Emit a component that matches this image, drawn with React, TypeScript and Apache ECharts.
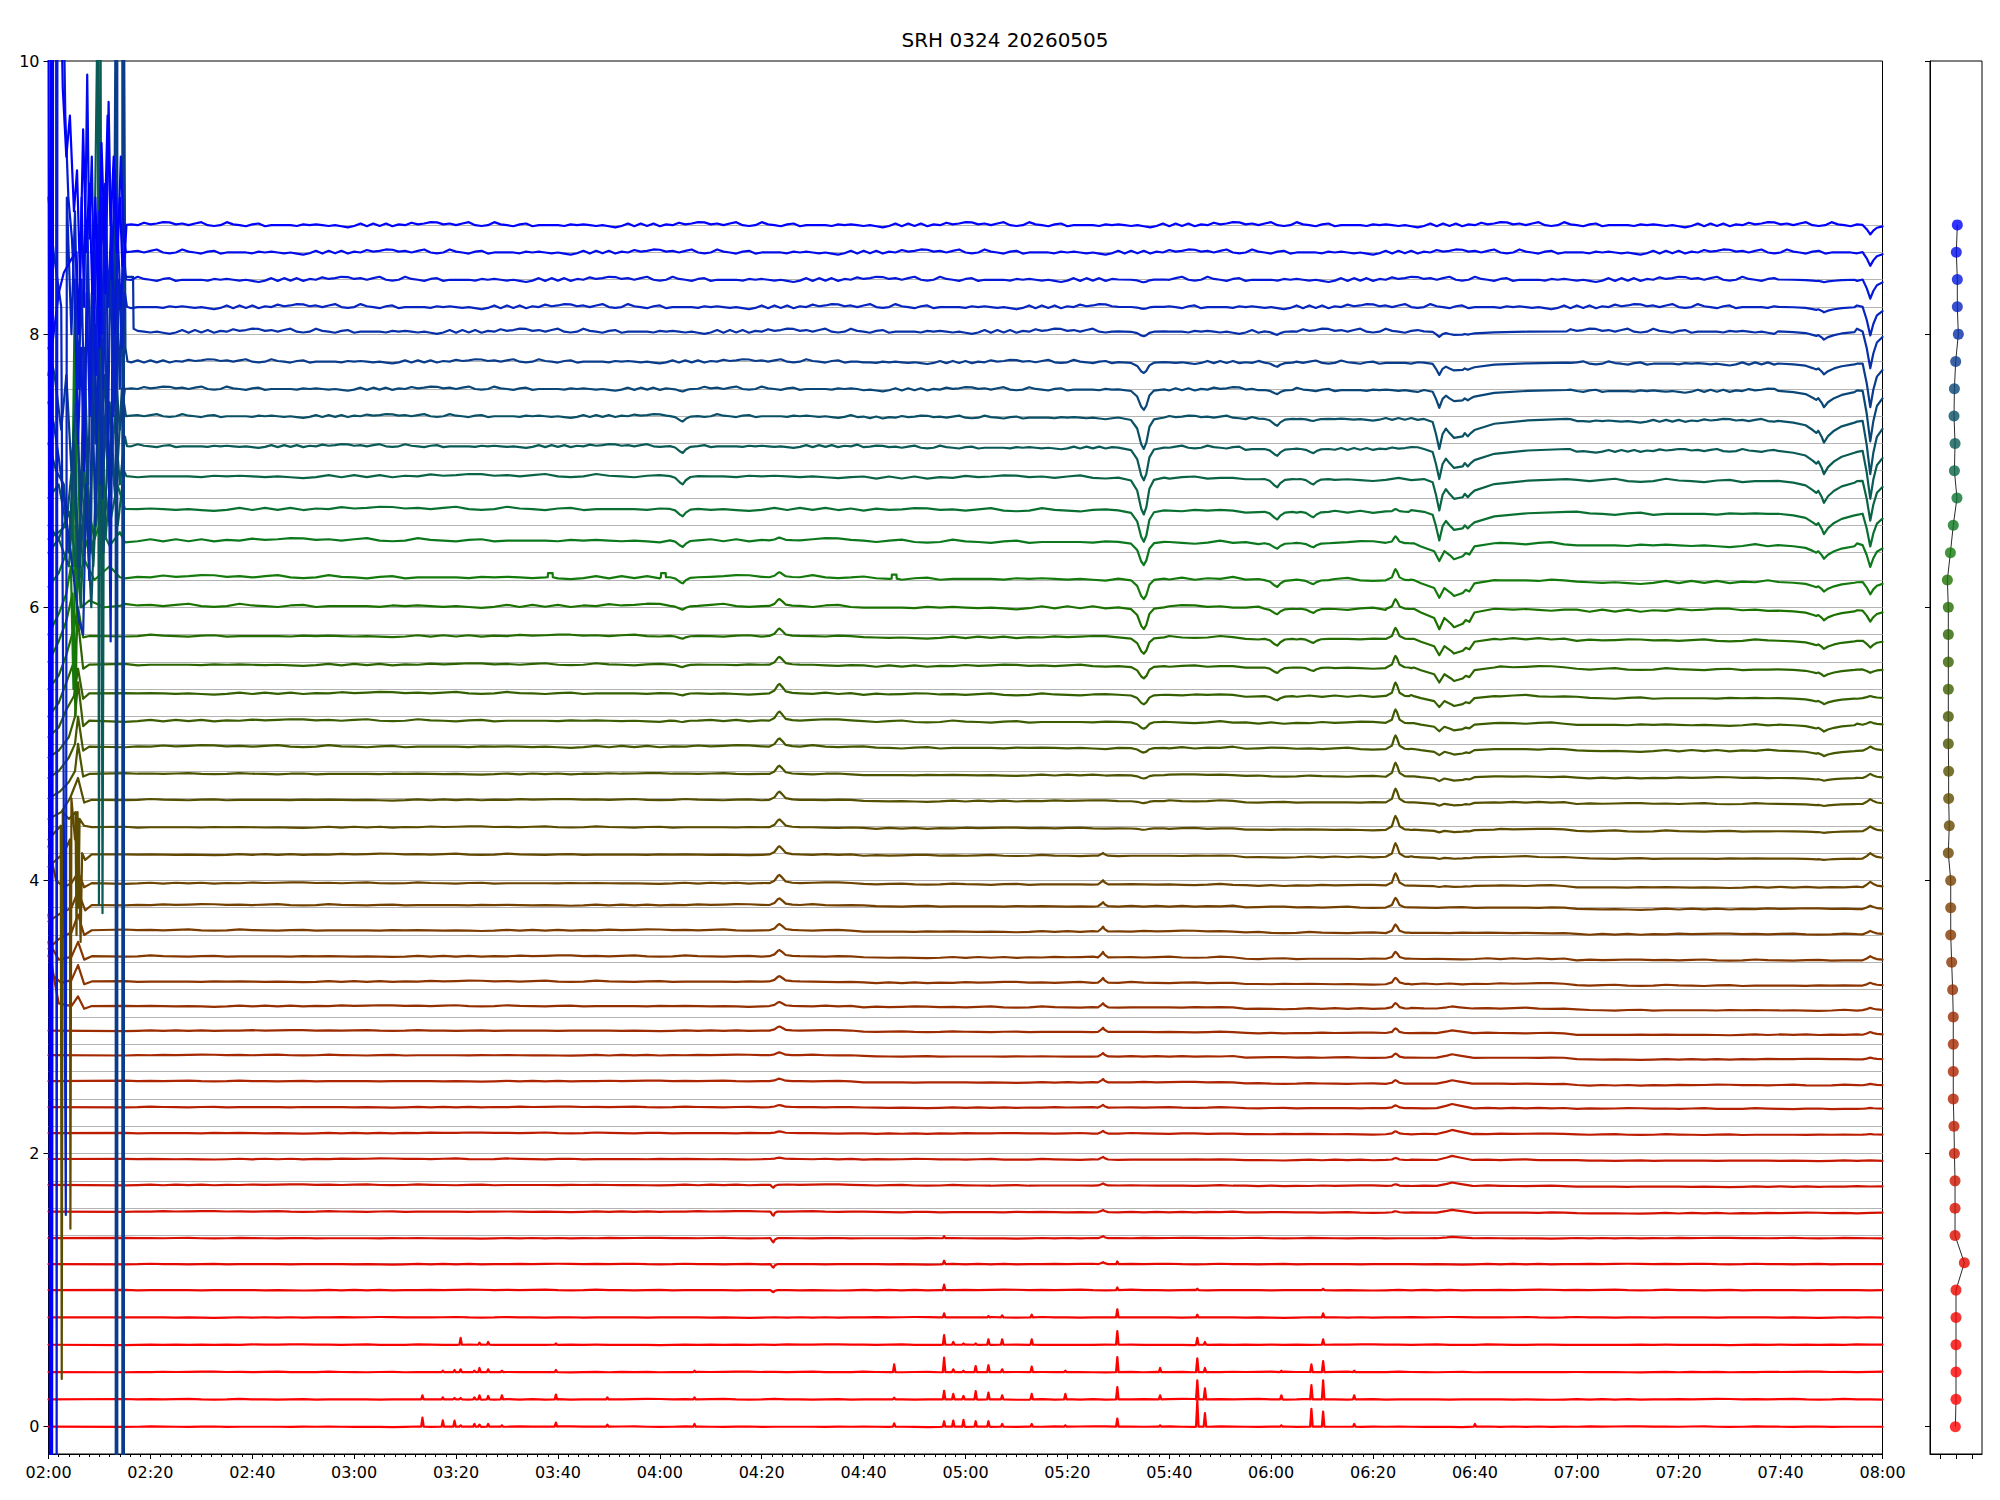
import React, { useEffect, useRef } from "react";
import * as echarts from "echarts";

// ---------------- DATA ----------------
const TITLE = "SRH 0324 20260505";
const xTickLabels = ["02:00","02:20","02:40","03:00","03:20","03:40","04:00","04:20","04:40","05:00","05:20","05:40","06:00","06:20","06:40","07:00","07:20","07:40","08:00"];
const yTickValues = [0, 2, 4, 6, 8, 10];

// nominal channel levels (gray lines, right panel dots)
const channelLevels = [0,0.2,0.4,0.6,0.8,1.0,1.2,1.4,1.6,1.8,2.0,2.2,2.4,2.6,2.8,3.0,3.2,3.4,3.6,3.8,4.0,4.2,4.4,4.6,4.8,5.0,5.2,5.4,5.6,5.8,6.0,6.2,6.4,6.6,6.8,7.0,7.2,7.4,7.6,7.8,8.0,8.2,8.4,8.6,8.8];
// observed trace baselines
const traceBase = [0,0.2,0.4,0.6,0.8,1.0,1.19,1.38,1.575,1.77,1.96,2.15,2.34,2.53,2.72,2.9,3.08,3.26,3.445,3.635,3.82,3.98,4.19,4.39,4.59,4.78,4.98,5.17,5.37,5.58,5.79,6.01,6.22,6.49,6.72,6.96,7.18,7.4,7.6,7.8,8.02,8.2,8.4,8.6,8.8];
const traceColors = ["#ff0000","#ff0000","#fe0000","#f80200","#f20400","#ec0600","#e40800","#dc0c00","#d41000","#cc1400","#c41800","#bc1c00","#b42000","#ac2400","#a42800","#9c2c00","#943000","#8c3400","#843800","#7c3c00","#744000","#6c4400","#644800","#5c4c00","#545000","#4c5400","#445800","#3c5c00","#346000","#2c6400","#246c00","#1c7200","#147a0c","#0c781e","#0a7032","#0a6444","#0a5a56","#0a5066","#0a4676","#0a3c8c","#0830a8","#0624c0","#0418d8","#020ceb","#0000ff"];
// right panel dot x-offsets
const dotX = [-0.04,0,0,0,0,0,0.52,-0.06,-0.06,-0.06,-0.1,-0.125,-0.17,-0.17,-0.17,-0.17,-0.21,-0.27,-0.33,-0.33,-0.33,-0.48,-0.42,-0.46,-0.46,-0.48,-0.48,-0.48,-0.48,-0.48,-0.48,-0.54,-0.35,-0.17,0.06,-0.1,-0.06,-0.125,-0.1,-0.02,0.146,0.083,0.083,0.02,0.083];

// baseline wiggle (normalized) and per-trace amplitude
const wiggle = [-0.4,-0.1,1.0,-0.1,-0.4,-0.1,-0.4,0.9,-0.1,0.5,1.0,-0.1,0.2,-0.1,-0.5,0.2,-0.5,0.5,-0.1,0.2,-0.1,-0.9,-0.1,-0.4,-0.1,-0.5,-0.4,0.5,0.2,0.8,0.2,0.5,1.0,-0.1,0.2,0.5,-0.5,-0.1,0.2,0.5,-0.5,0.5];
const noiseAmp = [0.003,0.003,0.003,0.003,0.003,0.003,0.003,0.003,0.004,0.004,0.004,0.004,0.004,0.004,0.004,0.004,0.006,0.006,0.006,0.006,0.006,0.006,0.006,0.006,0.006,0.006,0.01,0.01,0.01,0.01,0.01,0.016,0.016,0.016,0.016,0.016,0.014,0.014,0.016,0.016,0.02,0.02,0.02,0.02,0.02];
// baseline sampling step per trace (minutes)
const knotStepByTrace = [2.5,2.5,2.5,2.5,2.5,2.5,2.5,2.5,2.5,2.5,2.5,2.5,2.5,2.5,2.5,2.5,2.5,2.5,2.5,2.5,2.5,2.5,2.5,2.5,2.5,2.5,2.5,2.5,2.5,2.5,2.5,2.5,2.5,2.5,2.5,2.5,1.25,1.25,1.25,1.25,1.25,1.25,1.25,1.25,1.25];
const driftW = [0,0,0,0,0,0,0,0,-0.012,-0.012,-0.012,-0.012,-0.012,-0.03,-0.03,-0.03,-0.03,-0.03,-0.03,-0.03,-0.03,-0.03,-0.03,-0.03,-0.03,-0.03,-0.03,-0.03,-0.035,-0.035,-0.035,-0.035,-0.035,-0.035,-0.035,-0.035,-0.035,-0.035,-0.015,-0.015,0,0,0,0,0];
const driftSteps = [[0,0],[160,0.3],[235,0.6],[300,1]];

// event shapes [minutes from centre, normalized magnitude]; sign comes from the amplitude
const tmplA = [[-5,0],[-2.5,0.08],[-1.3,0.35],[-0.5,0.85],[0,1],[0.5,0.8],[1.1,0.3],[2,0.06],[4,0]];
const tmplB1 = [[-3,0],[-1.3,0.1],[-0.65,0.5],[0,1],[0.65,0.5],[1.3,0.32],[2,0.47],[2.9,0.63],[4.6,0.58],[5,0.47],[5.6,0.58],[6.2,0.47],[6.9,0.37],[10.8,0.16],[17.4,0.05],[25,0]];
const tmplB2 = [[-5,0],[-3.6,0.18],[-1.0,0.45],[0,1],[1.0,0.45],[2.3,0.73],[2.9,0.9],[4.6,0.73],[5.2,0.55],[5.9,0.64],[6.9,0.18],[10.8,0]];
const tmplC = [[-1.8,0],[-0.7,0.25],[-0.2,0.85],[0,1],[0.3,0.8],[0.8,0.25],[1.8,0.02],[2.6,0]];
const tmplD = [[-2,0],[-1,0.3],[-0.3,0.9],[0,1],[0.5,0.7],[1.2,0.2],[2.5,0.05],[4,0]];
const tmplDip = [[-2.5,0],[-1.5,0.2],[-0.5,0.8],[0,1],[0.6,0.5],[1.5,0.1],[3,0]];
const tmplTick = [[-0.6,0],[-0.2,0.8],[0,1],[0.3,0.3],[0.8,0]];
const tmplE = [[-1,0],[-0.3,0.6],[0,1],[0.3,0.5],[1,0]];
const tmplI = [[-9,0],[-6,0.08],[-3.6,0.2],[-2.2,0.42],[-1.5,0.55],[-1.1,0.45],[-0.4,0.75],[0,1],[0.8,0.7],[2,0.45],[3.5,0.25],[6,0.08]];
const tmplJ = [[-1.5,0],[-0.7,0.45],[0,1],[0.6,0.6],[1.3,0.3],[2.4,0.15]];
const tmplK = [[-3,0],[-1,0.6],[0,1],[1.5,0.6],[4,0]];
const tmplSpike = [[-0.25,0],[0,1],[0.25,0]];
const tmplPulse = [[-0.5,0],[-0.45,1],[0.45,1],[0.5,0]];

// per-trace amplitudes (y units, negative = dip), index 0 = bottom trace
const ampA = [0,0,0,0,0, 0,0,0,0,0, 0,0,0,0,0, 0,0,0,0,0, 0,0,0,-0.01,-0.015, -0.025,-0.035,-0.05,-0.07,-0.09, -0.12,-0.16,-0.15,-0.17,-0.23, -0.27,-0.24,-0.23,-0.15,-0.08, -0.035,-0.015,-0.02,0,0];
const ampB1 = [0,0,0,0,0, 0,0,0,0,0, 0,0,0,0,0, 0,0,0,0,0, 0,0,0,0,0, 0,0,0,0,0, 0,0,0,0,-0.21, -0.23,-0.22,-0.22,-0.13,-0.09, -0.04,0,0,0,0];
const ampB2 = [0,0,0,0,0, 0,0,0,0,0, 0,0,0,0,0, 0,0,0,0,0, 0,-0.01,-0.015,-0.02,-0.025, -0.035,-0.045,-0.06,-0.08,-0.11, -0.12,-0.15,-0.13,-0.13,0, 0,0,0,0,0, 0,0,0,0,0];
const ampC = [0,0,0,0,0, 0,0,0,0.01,0.012, 0.015,0.02,0.02,0.025,0.03, 0.035,0.04,0.045,0.05,0.06, 0.07,0.09,0.1,0.1,0.1, 0.1,0.1,0.1,0.1,0.085, 0.08,0.07,0.08,0.05,0.02, 0,0,0,0,0, 0,0,0,0,0];
const ampD = [0,0,0,0,0, 0,0,0,0,0, 0.01,0.012,0.015,0.018,0.021, 0.03,0.03,0.039,0.045,0.045, 0.048,0.06,0.06,0.057,0.06, 0.06,0.06,0.066,0.069,0.057, 0.054,0.05,0.036,0.02,0, 0,0,0,0,0, 0,0,0,0,0];
const ampD2 = [0,0,0,0,0, -0.015,-0.025,-0.03,-0.03,-0.02, 0,0,0,0,0, 0,0,0,0,0, 0,0,0,0,0, 0,0,0,0,0, 0,0,0,0,0, 0,0,0,0,0, 0,0,0,0,0];
const ampE = [0,0,0,0,0, 0,0.015,0.015,0.015,0.015, 0.02,0.02,0.02,0.025,0.025, 0.03,0.03,0.035,0.04,0.035, 0.03,0.03,0.02,0,0, 0,0,0,0,0, 0,0,0,0,0, 0,0,0,0,0, 0,0,0,0,0];
const ampF = [0,0,0,0,0, 0,0,0,0,0, 0,0,0,0,0, 0,0,0,0,0, 0,0,0,0,0, 0,0,-0.01,-0.015,-0.018, -0.02,-0.027,-0.045,-0.048,-0.054, -0.06,-0.05,-0.04,-0.02,0, 0,0,0,0,0];
const ampG = [0,0,0,0,0, 0,0,0,0,0, 0,0,0,0,0, 0,0,0,0,0, 0,0,0,0,0, 0,0,0,-0.03,-0.04, -0.05,-0.04,-0.05,-0.04,-0.056, -0.06,-0.05,-0.05,-0.03,-0.03, -0.025,0,0,0,0];
const ampH = [0,0,0,0,0, 0,0,0,0,0, 0,0,0,0,0, 0,0,0,0,0, 0,0,0,0,0, 0,0,0,0,-0.025, -0.03,-0.03,-0.03,-0.03,-0.04, -0.04,-0.03,-0.015,0,0, 0,0,0,0,0];
const ampI = [0,0,0,0,0, 0,0,0,0,0, 0,0,0,0,0, 0,0,0,0,0, 0,0,-0.01,-0.012,-0.015, -0.02,-0.04,-0.05,-0.045,-0.05, -0.06,-0.07,-0.07,-0.1,-0.15, -0.16,-0.17,-0.16,-0.12,-0.08, -0.06,-0.04,-0.02,0,0];
const ampJ = [0,0,0,0,0, 0,0,0,0,0, 0,0.005,0.006,0.01,0.012, 0.02,0.017,0.02,0.03,0.025, 0.025,0.04,0.04,0.035,0.035, 0.03,0.03,0.02,0.015,-0.025, -0.05,-0.08,-0.09,-0.16,-0.24, -0.29,-0.35,-0.39,-0.37,-0.32, -0.27,-0.21,-0.14,-0.1,-0.07];
const ampK = [0,0,0,0,0, 0,0,0.01,0.02,0.025, 0.03,0.03,0.03,0.025,0.025, 0.02,0.015,0,0,0, 0,0,0,0,0, 0,0,0,0,0, 0,0,0,0,0, 0,0,0,0,0, 0,0,0,0,0];

const events = [
  { t: 215, shape: tmplA, amp: ampA },
  { t: 273, shape: tmplB1, amp: ampB1 },
  { t: 273, shape: tmplB2, amp: ampB2 },
  { t: 264.4, shape: tmplC, amp: ampC },
  { t: 143.5, shape: tmplD, amp: ampD },
  { t: 142.3, shape: tmplTick, amp: ampD2 },
  { t: 207, shape: tmplE, amp: ampE },
  { t: 124.5, shape: tmplDip, amp: ampF },
  { t: 241.2, shape: tmplDip, amp: ampG },
  { t: 248.3, shape: tmplDip, amp: ampH },
  { t: 348.5, shape: tmplI, amp: ampI },
  { t: 357.6, shape: tmplJ, amp: ampJ },
  { t: 275.5, shape: tmplK, amp: ampK },
];

// spikes in the lowest traces: time (min after 02:00), heights for traces 0..7
const spikes = [
  { t: 73.4, a: [0.066,0.03,0,0,0,0,0,0] },
  { t: 77.4, a: [0.046,0.015,0.01,0,0,0,0,0] },
  { t: 79.7, a: [0.044,0.01,0.015,0,0,0,0,0] },
  { t: 80.9, a: [0.01,0.01,0.02,0.05,0,0,0,0] },
  { t: 83.6, a: [0.02,0.015,0.01,0,0,0,0,0] },
  { t: 84.6, a: [0.015,0.03,0.03,0.015,0,0,0,0] },
  { t: 86.3, a: [0.02,0.025,0.02,0.02,0,0,0,0] },
  { t: 89, a: [0.01,0.03,0.01,0,0,0,0,0] },
  { t: 99.6, a: [0.03,0.035,0.015,0.01,0,0,0,0] },
  { t: 109.7, a: [0.015,0.015,0,0,0,0,0,0] },
  { t: 126.8, a: [0.02,0.015,0.01,0,0,0,0,0] },
  { t: 166, a: [0.025,0.012,0.056,0,0,0,0,0] },
  { t: 175.8, a: [0.04,0.063,0.105,0.07,0.03,0.04,0.025,0.015] },
  { t: 177.6, a: [0.045,0.04,0.02,0.02,0,0,0,0] },
  { t: 179.6, a: [0.05,0.025,0.01,0.01,0,0,0,0] },
  { t: 182, a: [0.04,0.06,0.044,0.01,0,0,0,0] },
  { t: 184.5, a: [0.04,0.05,0.05,0.04,0.01,0,0,0] },
  { t: 187.2, a: [0.02,0.03,0.02,0.04,0.015,0,0,0] },
  { t: 193, a: [0.02,0.04,0.04,0.04,0.02,0,0,0] },
  { t: 199.6, a: [0.01,0.04,0.01,0,0,0,0,0] },
  { t: 209.8, a: [0.06,0.09,0.11,0.1,0.06,0.02,0.02,0] },
  { t: 218.2, a: [0.01,0.03,0.03,0,0,0,0,0] },
  { t: 225.5, a: [0.19,0.14,0.1,0.05,0.02,0.01,0,0] },
  { t: 227, a: [0.1,0.08,0.03,0.02,0,0,0,0] },
  { t: 242, a: [0.01,0.03,0.01,0,0,0,0,0] },
  { t: 247.9, a: [0.13,0.105,0.056,0,0,0,0,0] },
  { t: 250.2, a: [0.11,0.14,0.08,0.04,0.03,0.01,0,0] },
  { t: 256.3, a: [0.02,0.03,0.01,0,0,0,0,0] },
  { t: 280, a: [0.02,0,0,0,0,0,0,0] },
];
// square pulses on trace 32
const pulseTimes = [98.5, 120.7, 166];
const pulseTrace = 32;
const pulseAmp = 0.03;

// 02:00-02:16 disturbance, absolute values [min, y]
const chaosSegments: Record<number, number[][]> = {
  16: [[0,3.45],[1,3.3],[2,3.1],[4.5,3.08],[5.8,3.15],[7,3.06],[8.5,3.08]],
  17: [[0,3.55],[1,3.3],[2.5,3.25],[4.5,3.27],[5.8,3.38],[7,3.24],[8.5,3.26]],
  18: [[0,3.75],[0.8,3.5],[2,3.42],[4.5,3.44],[5.8,3.55],[7,3.42],[8.5,3.445]],
  19: [[0,3.5],[2,3.57],[4.5,3.62],[5.8,3.75],[7,3.6],[8.5,3.635]],
  20: [[0,3.7],[2,3.75],[4.5,3.8],[5.8,3.92],[7.2,3.78],[8.5,3.82]],
  21: [[0,4.25],[1.5,4.0],[3,3.95],[4.5,3.98],[5.8,4.06],[7,3.95],[8.5,3.98]],
  22: [[0,4.1],[3,4.2],[4.2,4.3],[4.3,1.45],[4.5,4.6],[5.2,4.3],[5.8,4.45],[6.3,3.55],[6.6,4.2],[7.2,4.15],[8.5,4.19]],
  23: [[0,4.3],[2.4,4.4],[2.6,0.35],[2.8,4.5],[4,4.45],[5.3,4.5],[5.5,3.6],[5.7,4.5],[5.9,3.8],[6.1,4.45],[7,4.4],[8.5,4.39]],
  24: [[0,4.45],[2.5,4.5],[4.2,4.6],[5.8,4.75],[7,4.57],[8.5,4.59]],
  25: [[0,4.6],[2.2,4.65],[4,4.72],[5.2,4.8],[5.8,5.0],[6.8,4.76],[8,4.78]],
  26: [[0,4.75],[2,4.8],[4,4.9],[5.2,5.0],[5.8,5.2],[6.8,4.95],[8,4.98]],
  27: [[0,4.9],[2,4.95],[4,5.05],[5.2,5.2],[5.8,5.45],[6.8,5.13],[8,5.17]],
  28: [[0,5.05],[2,5.12],[3.5,5.25],[5,5.35],[5.8,5.55],[6.8,5.33],[8,5.37]],
  29: [[0,5.2],[2,5.3],[3.5,5.45],[5,5.6],[5.8,5.9],[6.8,5.55],[8,5.58]],
  30: [[0,5.4],[2,5.5],[3.5,5.65],[5,5.85],[5.8,6.0],[6.8,5.78],[8,5.79]],
  31: [[0,5.6],[2,5.75],[3.5,5.9],[4.7,6.1],[5.3,5.2],[5.7,6.3],[6.5,6.0],[8,6.05],[11,6.0],[14,6.01]],
  32: [[0,5.8],[2,5.95],[3.5,6.1],[4.4,6.3],[4.9,5.4],[5.3,6.6],[6,6.2],[7,6.35],[9,6.2],[12,6.3],[14,6.22]],
  33: [[0,6.15],[2,6.25],[3.5,6.4],[4.6,6.55],[5.2,8.4],[5.6,6.1],[6.4,6.6],[8,6.4],[10,6.6],[12,6.45],[14,6.55]],
  34: [[0,6.5],[2,6.55],[3.5,6.6],[4.8,6.3],[5.5,7.8],[6.2,6.4],[7.5,6.8],[9,6.5],[10.5,7.0],[12,6.6],[13.5,6.9],[15,6.72]],
  35: [[0,6.4],[2,6.5],[4,6.3],[5.2,6.9],[6.3,6.0],[7.5,7.0],[8.8,6.3],[10,7.3],[11.2,6.5],[12.4,7.1],[13.6,6.6],[14.8,7.0],[15.3,6.96]],
  36: [[0,6.6],[2,6.5],[4,6.7],[5.5,6.3],[7,7.0],[8.3,6.4],[9.7,10.6],[9.9,3.82],[10.2,10.6],[10.6,3.76],[10.9,7.4],[12,6.8],[13,7.4],[14,6.9],[15,7.25],[15.4,7.18]],
  37: [[0,6.8],[2,6.9],[3.5,6.6],[4.8,7.1],[6,6.2],[7.2,6.9],[8.4,6.0],[9.6,7.2],[10.8,6.4],[12,7.5],[13.2,6.8],[14.4,7.6],[15.2,7.4]],
  38: [[0,7.2],[1.5,7.0],[3,6.9],[4,6.4],[5,7.2],[6,6.3],[7,7.4],[8,6.6],[9,7.5],[10,6.9],[11,7.7],[12,7.0],[13,7.8],[14,7.3],[15,7.6],[15.4,7.6]],
  39: [[0,7.9],[1.2,7.7],[2.5,7.3],[3.5,7.7],[4.5,7.0],[5.5,7.6],[6.3,6.7],[7,7.9],[7.8,6.9],[8.5,8.3],[9.2,7.2],[9.9,8.0],[10.6,6.8],[11.3,7.6],[12,6.9],[12.8,7.9],[13.2,10.6],[13.2,-0.5],[13.35,-0.5],[13.35,10.6],[13.5,10.6],[13.5,-0.5],[14.5,-0.5],[14.5,10.6],[14.65,10.6],[14.65,-0.5],[14.8,-0.5],[14.8,10.6],[15.1,7.9],[15.5,7.8]],
  40: [[0,7.5],[1,7.35],[2,7.1],[3,6.8],[4,6.5],[5,6.2],[6,5.9],[6.8,5.8],[7.4,6.9],[8,6.2],[8.6,7.6],[9.2,6.6],[9.8,7.9],[10.4,6.9],[11,8.3],[11.6,7.1],[12.2,8.6],[12.8,7.4],[13.4,8.4],[14,7.6],[14.6,8.5],[15.2,8.42],[16.6,8.42],[16.7,8.04]],
  41: [[0,9.0],[1,8.6],[2.5,8.2],[3.4,1.55],[3.6,9.0],[4.5,8.0],[5.2,8.9],[5.9,7.6],[6.5,8.4],[7.1,7.3],[7.7,8.7],[8.3,7.5],[8.9,8.1],[9.5,7.2],[10.1,8.4],[10.7,7.6],[11.3,8.9],[12.2,5.75],[12.6,8.5],[13.1,7.5],[13.8,8.4],[14.4,7.9],[15,8.3],[15.4,8.2]],
  42: [[0,10.6],[1.5,10.6],[1.6,-0.5],[1.75,10.6],[2.9,10.6],[3.3,9.6],[3.9,9.0],[4.6,8.7],[5.2,8.2],[5.8,7.2],[6.4,7.9],[7,7.0],[7.5,8.3],[8.1,7.4],[8.7,8.6],[9.3,7.7],[9.9,8.9],[10.5,8.0],[11.1,9.1],[11.7,8.2],[12.3,8.8],[13,8.0],[13.6,8.7],[14.2,8.2],[14.8,8.6],[15.2,8.4]],
  43: [[0,7.7],[1,8.0],[2,8.3],[3,8.45],[4.5,8.55],[5.5,8.6],[6,8.0],[6.5,9.0],[7,8.2],[7.6,9.9],[8,8.7],[8.5,9.3],[9,8.1],[9.5,8.8],[10,7.9],[10.6,9.0],[11.2,8.3],[11.8,9.7],[12.4,8.4],[13,9.2],[13.6,8.6],[14.2,9.3],[14.8,8.7],[15.2,8.6]],
  44: [[0,10.6],[0.3,-0.5],[0.5,10.6],[0.7,-0.5],[0.9,10.6],[2.4,10.6],[2.8,9.8],[3.5,9.3],[4.2,9.6],[5,8.9],[5.6,9.2],[6.2,8.4],[6.8,9.5],[7.4,8.6],[8,9.1],[8.6,8.3],[9.2,9.0],[9.8,8.2],[10.4,9.4],[11,8.7],[11.6,9.6],[12.2,8.8],[12.8,9.3],[13.4,8.6],[14,9.0],[14.5,8.5],[15,8.6],[15.3,8.8]],
};

// baseline sampling range (minutes after 02:00)
const knotStart = 15, knotEnd = 360;

// ---------------- BUILD ----------------
function driftAt(t: number) {
  let v = 0;
  for (const [s, d] of driftSteps) if (t >= s) v = d;
  return v;
}

function buildTrace(i: number): number[][] {
  const base = traceBase[i];
  const head: number[][] = [];
  const chaos = chaosSegments[i];
  let startT = 0;
  if (chaos) {
    chaos.forEach((p) => head.push([p[0], p[1]]));
    startT = chaos[chaos.length - 1][0];
  } else {
    head.push([0, base]);
  }
  const windows: number[][] = [];
  const rest: number[][] = [];
  const addEvent = (tc: number, tmpl: number[][], amp: number) => {
    if (!amp) return;
    const d = driftAt(tc) * driftW[i];
    windows.push([tc + tmpl[0][0], tc + tmpl[tmpl.length - 1][0]]);
    tmpl.forEach(([dt, v]) => rest.push([tc + dt, base + d + amp * v]));
  };
  events.forEach((ev) => addEvent(ev.t, ev.shape, ev.amp[i]));
  spikes.forEach((s) => addEvent(s.t, tmplSpike, s.a[i] || 0));
  if (i === pulseTrace) pulseTimes.forEach((t) => addEvent(t, tmplPulse, pulseAmp));
  const step = knotStepByTrace[i];
  let k = 0;
  for (let t = knotStart; t <= knotEnd + 1e-9; t += step, k++) {
    if (t <= startT) continue;
    if (windows.some(([a, b]) => t >= a && t <= b)) continue;
    const w = wiggle[(k * 5 + i * 7) % wiggle.length];
    rest.push([t, base + driftAt(t) * driftW[i] + noiseAmp[i] * w]);
  }
  rest.sort((a, b) => a[0] - b[0]);
  return head.concat(rest);
}

const FONT = "DejaVu Sans";

function buildOption() {
  const series: any[] = [];
  series.push({
    type: "lines",
    coordinateSystem: "cartesian2d",
    xAxisIndex: 0,
    yAxisIndex: 0,
    z: 1,
    silent: true,
    lineStyle: { color: "#b4b4b4", width: 1.2, opacity: 1 },
    data: channelLevels.map((l) => ({ coords: [[0, l], [360, l]] })),
  });
  for (let i = 0; i < traceBase.length; i++) {
    series.push({
      type: "line",
      xAxisIndex: 0,
      yAxisIndex: 0,
      data: buildTrace(i),
      showSymbol: false,
      symbol: "none",
      clip: true,
      silent: true,
      z: 2,
      lineStyle: { color: traceColors[i], width: 2.2, cap: "round", join: "round" },
      itemStyle: { color: traceColors[i] },
      emphasis: { disabled: true },
    });
  }
  series.push({
    type: "line",
    xAxisIndex: 1,
    yAxisIndex: 1,
    data: dotX.map((x, i) => [x, channelLevels[i]]),
    showSymbol: false,
    symbol: "none",
    silent: true,
    z: 3,
    lineStyle: { color: "#2a2a2a", width: 1 },
  });
  series.push({
    type: "scatter",
    xAxisIndex: 1,
    yAxisIndex: 1,
    symbol: "circle",
    symbolSize: 11,
    silent: true,
    z: 4,
    data: dotX.map((x, i) => ({ value: [x, channelLevels[i]], itemStyle: { color: traceColors[i] } })),
  });

  const axisLineStyle = { color: "#000", width: 1 };
  return {
    animation: false,
    backgroundColor: "#ffffff",
    textStyle: { fontFamily: FONT },
    title: {
      text: TITLE,
      left: 1000,
      textAlign: "center",
      top: 25,
      textStyle: { fontFamily: FONT, fontSize: 20, fontWeight: "normal", color: "#000" },
    },
    grid: [
      { left: 48.5, top: 61, width: 1834, height: 1393, show: true, borderColor: "#000", borderWidth: 1, backgroundColor: "transparent" },
      { left: 1930, top: 61, width: 52, height: 1393, show: true, borderColor: "#000", borderWidth: 1, backgroundColor: "transparent" },
    ],
    xAxis: [
      {
        type: "value",
        gridIndex: 0,
        min: 0,
        max: 360,
        interval: 20,
        axisLine: { show: true, onZero: false, lineStyle: axisLineStyle },
        axisTick: { show: true, length: 5, lineStyle: axisLineStyle },
        minorTick: { show: true, splitNumber: 10, length: 3, lineStyle: axisLineStyle },
        splitLine: { show: false },
        minorSplitLine: { show: false },
        axisLabel: {
          show: true,
          margin: 10,
          fontFamily: FONT,
          fontSize: 16,
          color: "#000",
          formatter: (v: number) => xTickLabels[Math.round(v / 20)] ?? "",
        },
      },
      {
        type: "value",
        gridIndex: 1,
        min: -1.625,
        max: 1.625,
        axisLine: { show: true, onZero: false, lineStyle: axisLineStyle },
        axisTick: { show: true, length: 5, lineStyle: axisLineStyle, customValues: [-1, 0, 1] },
        axisLabel: { show: false },
        splitLine: { show: false },
      },
    ],
    yAxis: [
      {
        type: "value",
        gridIndex: 0,
        min: -0.2,
        max: 10,
        axisLine: { show: true, onZero: false, lineStyle: axisLineStyle },
        axisTick: { show: true, length: 5, lineStyle: axisLineStyle, customValues: yTickValues },
        axisLabel: { show: true, margin: 9, fontFamily: FONT, fontSize: 16, color: "#000", customValues: yTickValues },
        splitLine: { show: false },
      },
      {
        type: "value",
        gridIndex: 1,
        min: -0.2,
        max: 10,
        axisLine: { show: true, onZero: false, lineStyle: axisLineStyle },
        axisTick: { show: true, length: 5, lineStyle: axisLineStyle, customValues: yTickValues },
        axisLabel: { show: false },
        splitLine: { show: false },
      },
    ],
    series,
  };
}

export default function App() {
  const ref = useRef<HTMLDivElement>(null);
  useEffect(() => {
    if (!ref.current) return;
    const chart = echarts.init(ref.current, undefined, { renderer: "svg" });
    chart.setOption(buildOption() as any);
    return () => chart.dispose();
  }, []);
  return (
    <div
      ref={ref}
      style={{ position: "fixed", left: 0, top: 0, width: 2000, height: 1500, background: "#fff" }}
    />
  );
}
